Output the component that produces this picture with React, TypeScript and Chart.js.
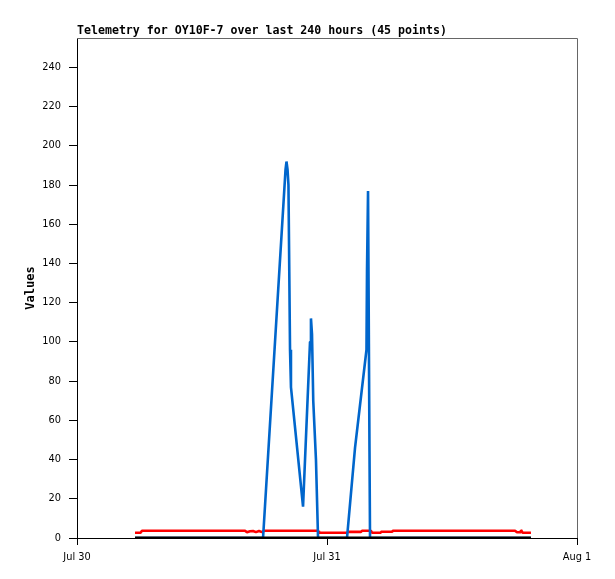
import { useEffect, useRef } from "react";
import { Chart, registerables } from "chart.js";

Chart.register(...registerables);

// ---- data (hours after Jul 30 00:00) ----
const TITLE = "Telemetry for OY10F-7 over last 240 hours (45 points)";
const Y_LABEL = "Values";
const X_TICK_HOURS = [0, 24, 48];
const X_TICK_LABELS = ["Jul 30", "Jul 31", "Aug 1"];
const Y_MAX = 255;

const blueHours = [5.57, 17.86, 20.02, 20.11, 20.21, 20.3, 20.45, 20.54, 21.7, 22.37, 22.46, 22.56, 22.68, 22.94, 23.14, 25.92, 26.69, 27.79, 27.84, 27.94, 28.08, 28.13, 43.58];
const blueValues = [0, 0, 188, 192, 188, 180, 96, 77, 16, 100, 112, 104, 70, 40, 0, 0, 46, 96, 136, 177, 44, 0, 0];

const redHours = [5.57, 6.1, 6.24, 16.13, 16.32, 16.61, 16.9, 17.18, 17.47, 17.76, 17.95, 23.14, 23.23, 25.92, 26.02, 27.26, 27.36, 28.22, 28.32, 29.09, 29.18, 30.24, 30.34, 42.05, 42.24, 42.53, 42.62, 42.77, 43.58];
const redValues = [2.7, 2.7, 3.7, 3.7, 2.9, 3.4, 3.6, 3.0, 3.6, 3.0, 3.7, 3.7, 2.7, 2.7, 3.1, 3.1, 3.7, 3.7, 2.7, 2.7, 3.2, 3.2, 3.7, 3.7, 2.9, 2.9, 4.1, 2.7, 2.7];

const blackHours = [5.57, 43.58];
const blackValues = [0, 0];

const toPoints = (xs: number[], ys: number[]) => xs.map((x, i) => ({ x, y: ys[i] }));

const framePlugin = {
  id: "frame",
  beforeDatasetsDraw(chart: any) {
    const { ctx, chartArea } = chart;
    const { left, right, top, bottom } = chartArea;
    ctx.save();
    ctx.strokeStyle = "#666";
    ctx.lineWidth = 1;
    ctx.beginPath();
    ctx.moveTo(left, Math.round(top) + 0.5);
    ctx.lineTo(Math.round(right) + 0.5, Math.round(top) + 0.5);
    ctx.lineTo(Math.round(right) + 0.5, bottom);
    ctx.stroke();
    ctx.restore();
  },
};

export default function App() {
  const ref = useRef<HTMLCanvasElement | null>(null);

  useEffect(() => {
    if (!ref.current) return;
    const tickFont = { family: "DejaVu Sans", size: 9.8 };
    const lineBase = { pointRadius: 0, tension: 0, borderJoinStyle: "bevel", borderCapStyle: "butt" };
    const chart = new Chart(ref.current, {
      type: "line",
      data: {
        datasets: [
          {
            ...lineBase,
            label: "black",
            data: toPoints(blackHours, blackValues),
            borderColor: "#000000",
            borderWidth: 3,
            order: 1,
          },
          {
            ...lineBase,
            label: "blue",
            data: toPoints(blueHours, blueValues),
            borderColor: "#0066cc",
            borderWidth: 2.6,
            order: 2,
          },
          {
            ...lineBase,
            label: "red",
            data: toPoints(redHours, redValues),
            borderColor: "#ff0000",
            borderWidth: 2.6,
            order: 3,
          },
        ],
      },
      options: {
        animation: false,
        responsive: false,
        devicePixelRatio: 1,
        layout: { padding: { top: 24, right: 38, bottom: 0, left: 0 } },
        plugins: {
          legend: { display: false },
          tooltip: { enabled: false },
          title: {
            display: true,
            text: TITLE,
            align: "start",
            fullSize: false,
            color: "#000",
            font: { family: "DejaVu Sans Mono", size: 11.6, weight: "bold", lineHeight: "14px" },
            padding: { top: 0, bottom: 0 },
          },
        },
        scales: {
          x: {
            type: "linear",
            min: X_TICK_HOURS[0],
            max: X_TICK_HOURS[X_TICK_HOURS.length - 1],
            afterFit: (s: any) => {
              s.height = 41;
            },
            afterBuildTicks: (s: any) => {
              s.ticks = X_TICK_HOURS.map((v) => ({ value: v }));
            },
            grid: { drawOnChartArea: false, drawTicks: true, tickLength: 7, color: "#000" },
            border: { display: true, color: "#000", width: 1 },
            ticks: {
              autoSkip: false,
              maxRotation: 0,
              padding: 7,
              color: "#000",
              font: tickFont,
              callback: (v: any) => {
                const i = X_TICK_HOURS.indexOf(Number(v));
                return i >= 0 ? X_TICK_LABELS[i] : "";
              },
            },
          },
          y: {
            type: "linear",
            min: 0,
            max: Y_MAX,
            afterFit: (s: any) => {
              s.width = 77;
            },
            grid: { drawOnChartArea: false, drawTicks: true, tickLength: 8, color: "#000" },
            border: { display: true, color: "#000", width: 1 },
            title: {
              display: true,
              text: Y_LABEL,
              color: "#000",
              font: { family: "DejaVu Sans Mono", size: 12, weight: "bold", lineHeight: "14px" },
              padding: { top: 24, bottom: 0 },
            },
            ticks: {
              stepSize: 20,
              includeBounds: false,
              padding: 8,
              color: "#000",
              font: tickFont,
            },
          },
        },
      },
      plugins: [framePlugin],
    } as any);
    return () => chart.destroy();
  }, []);

  return (
    <div style={{ position: "fixed", left: 0, top: 0, width: 615, height: 579, background: "#fff" }}>
      <canvas ref={ref} width={615} height={579} style={{ width: 615, height: 579, display: "block" }} />
    </div>
  );
}
